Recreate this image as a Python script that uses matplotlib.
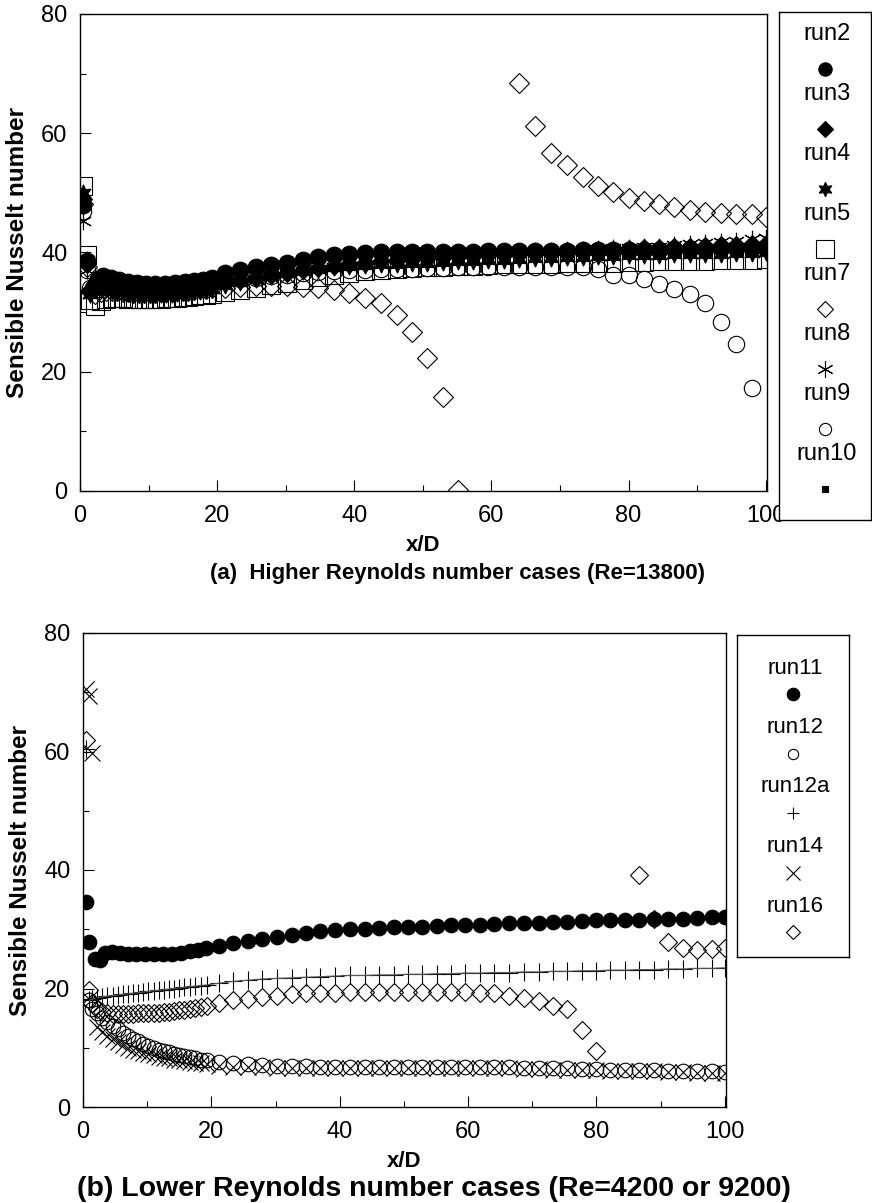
import numpy as np
import matplotlib
matplotlib.use("Agg")
import matplotlib.pyplot as plt
from matplotlib.ticker import MultipleLocator

plt.rcParams['font.family'] = ['Liberation Sans', 'DejaVu Sans']

nan = np.nan

# measuring stations (x/D): coarse set used by run2 / run11, fine set by the rest
x_coarse = [0.5, 1.0, 1.9, 2.6, 3.4, 4.5, 5.7, 7.0, 8.3, 9.6, 11.0, 12.4, 13.9, 15.3, 16.6, 17.9, 19.2,
            21.2, 23.4, 25.7, 27.9, 30.2, 32.5, 34.7, 37.0, 39.3, 41.6, 43.9, 46.2, 48.4, 50.6, 52.9,
            55.1, 57.3, 59.5, 61.8, 64.1, 66.4, 68.7, 71.0, 73.3, 75.5, 77.7, 80.0, 82.2, 84.5, 86.7,
            89.0, 91.2, 93.5, 95.7, 98.0, 100.1]
x_fine = [0.5, 1.0, 1.4, 2.2, 3.0, 3.8, 4.6, 5.4, 6.2, 7.0, 7.8, 8.6, 9.4, 10.2, 11.0, 11.8, 12.6,
          13.4, 14.2, 15.0, 15.8, 16.6, 17.5, 18.4, 19.3,
          21.2, 23.4, 25.7, 27.9, 30.2, 32.5, 34.7, 37.0, 39.3, 41.6, 43.9, 46.2, 48.4, 50.6, 52.9,
          55.1, 57.3, 59.5, 61.8, 64.1, 66.4, 68.7, 71.0, 73.3, 75.5, 77.7, 80.0, 82.2, 84.5, 86.7,
          89.0, 91.2, 93.5, 95.7, 98.0, 100.1]

# (a) Re = 13800
run2 = [48.0, 38.5, 34.0, 35.5, 36.0, 35.8, 35.4, 35.1, 34.9, 34.8, 34.8, 34.8, 34.9, 35.0, 35.2, 35.4, 35.7,
        36.6, 37.1, 37.5, 37.9, 38.3, 38.8, 39.2, 39.5, 39.7, 39.9, 40.0, 40.0, 40.0, 40.0, 40.1, 40.1,
        40.1, 40.2, 40.2, 40.2, 40.3, 40.3, 40.3, 40.4, 40.4, 40.4, 40.5, 40.5, 40.5, 40.6, 40.6, 40.6,
        40.7, 40.7, 40.8, 40.8]
run3 = [49.0, 38.0, 33.5, 34.5, 34.8, 34.6, 34.4, 34.2, 34.0, 33.9, 33.8, 33.7, 33.7, 33.7, 33.7, 33.8,
        33.8, 33.9, 34.0, 34.1, 34.2, 34.3, 34.4, 34.5, 34.7,
        35.0, 35.4, 35.8, 36.2, 36.6, 37.0, 37.4, 37.7, 38.0, 38.3, 38.5, 38.7, 38.9, 39.1, 39.3, 39.4,
        39.6, 39.7, 39.8, 39.9, 40.0, 40.1, 40.2, 40.3, 40.4, 40.5, 40.6, 40.7, 40.8, 40.9, 41.0, 41.1,
        41.2, 41.3, 41.4, 41.5]
run4 = [50.0, 38.8, 33.0, 33.8, 34.0, 33.8, 33.6, 33.4, 33.3, 33.2, 33.1, 33.0, 33.0, 33.0, 33.0, 33.0,
        33.1, 33.1, 33.2, 33.3, 33.4, 33.5, 33.6, 33.7, 33.9,
        34.5, 35.0, 35.5, 36.0, 36.5, 36.9, 37.2, 37.5, 37.7, 37.9, 38.0, 38.1, 38.2, 38.3, 38.4, 38.5,
        38.6, 38.7, 38.8, 38.9, 39.0, 39.1, 39.2, 39.3, 39.4, 39.4, 39.5, 39.6, 39.6, 39.7, 39.7, 39.8,
        39.8, 39.9, 39.9, 40.0]
run5 = [51.2, 39.5, 32.0, 31.0, 31.8, 32.2, 32.3, 32.3, 32.3, 32.2, 32.2, 32.2, 32.2, 32.2, 32.2, 32.2,
        32.3, 32.3, 32.4, 32.5, 32.6, 32.7, 32.8, 32.9, 33.1,
        33.3, 33.7, 34.1, 34.5, 34.9, 35.4, 35.9, 36.3, 36.6, 36.9, 37.1, 37.3, 37.4, 37.5, 37.6, 37.7,
        37.8, 37.9, 38.0, 38.0, 38.1, 38.1, 38.2, 38.2, 38.3, 38.3, 38.4, 38.4, 38.5, 38.5, 38.6, 38.6,
        38.7, 38.7, 38.8, 38.9]
run7 = [48.2, 37.5, 33.5, 33.0, 33.4, 33.6, 33.6, 33.5, 33.4, 33.3, 33.2, 33.2, 33.2, 33.2, 33.2, 33.3,
        33.3, 33.4, 33.5, 33.5, 33.6, 33.7, 33.8, 33.9, 34.0,
        34.1, 34.2, 34.3, 34.4, 34.4, 34.2, 34.0, 33.7, 33.2, 32.4, 31.5, 29.5, 26.7, 22.3, 15.7, 0.2,
        nan, nan, nan, 68.4, 61.2, 56.7, 54.6, 52.7, 51.2, 50.2, 49.1, 48.7, 48.2, 47.6, 47.1, 46.8,
        46.6, 46.4, 46.4, 46.0]
run8 = [45.3, 37.0, 33.0, 34.0, 34.6, 34.5, 34.3, 34.1, 34.0, 33.9, 33.8, 33.8, 33.8, 33.8, 33.9, 33.9,
        34.0, 34.1, 34.2, 34.3, 34.5, 34.6, 34.8, 35.0, 35.2,
        35.4, 35.8, 36.2, 36.6, 37.0, 37.4, 37.8, 38.1, 38.4, 38.7, 38.9, 39.1, 39.3, 39.5, 39.6, 39.7,
        39.8, 39.9, 40.0, 40.1, 40.2, 40.3, 40.4, 40.5, 40.6, 40.7, 40.8, 40.9, 41.0, 41.2, 41.4, 41.6,
        41.8, 42.0, 42.2, 42.4]
run9 = [47.0, 37.0, 34.0, 34.5, 34.7, 34.5, 34.3, 34.1, 34.0, 33.9, 33.9, 33.9, 33.9, 33.9, 34.0, 34.0,
        34.1, 34.2, 34.3, 34.4, 34.5, 34.6, 34.7, 34.8, 35.0,
        35.2, 35.5, 35.8, 36.1, 36.3, 36.5, 36.7, 36.9, 37.0, 37.1, 37.2, 37.3, 37.3, 37.4, 37.4, 37.5,
        37.5, 37.5, 37.6, 37.6, 37.6, 37.6, 37.6, 37.5, 37.2, 36.2, 36.2, 35.5, 34.8, 33.9, 33.0, 31.5,
        28.4, 24.7, 17.3, nan]
run10 = [49.5, 38.0, 33.5, 34.0, 34.2, 34.0, 33.8, 33.6, 33.5, 33.4, 33.4, 33.4, 33.4, 33.4, 33.5, 33.5,
         33.6, 33.7, 33.8, 33.9, 34.0, 34.1, 34.2, 34.4, 34.6,
         34.9, 35.3, 35.7, 36.1, 36.5, 36.9, 37.2, 37.5, 37.8, 38.0, 38.2, 38.4, 38.5, 38.6, 38.7, 38.8,
         38.9, 39.0, 39.1, 39.2, 39.3, 39.4, 39.5, 39.5, 39.6, 39.7, 39.8, 39.9, 39.9, 40.0, 40.1, 40.2,
         40.2, 40.3, 40.4, 40.5]

# (b) Re = 4200 or 9200
run11 = [34.6, 27.9, 25.0, 24.8, 26.0, 26.2, 26.0, 25.9, 25.8, 25.8, 25.8, 25.9, 25.9, 26.0, 26.3, 26.5, 26.8,
         27.2, 27.6, 28.0, 28.3, 28.7, 29.1, 29.4, 29.7, 29.8, 30.0, 30.1, 30.2, 30.3, 30.3, 30.4, 30.6,
         30.7, 30.7, 30.8, 30.9, 31.0, 31.0, 31.1, 31.2, 31.3, 31.4, 31.5, 31.5, 31.6, 31.6, 31.8, 31.8,
         31.8, 31.9, 32.0, 32.1]
run12 = [nan, 18.0, 16.5, 15.8, 15.0, 14.3, 13.7, 13.1, 12.5, 12.0, 11.5, 11.1, 10.7, 10.3, 10.0, 9.7,
         9.4, 9.2, 9.0, 8.8, 8.6, 8.4, 8.2, 8.0, 7.9,
         7.6, 7.4, 7.2, 7.1, 7.0, 6.9, 6.9, 6.8, 6.8, 6.8, 6.8, 6.8, 6.8, 6.8, 6.8, 6.8, 6.8, 6.8, 6.7,
         6.7, 6.7, 6.6, 6.6, 6.5, 6.5, 6.4, 6.4, 6.3, 6.3, 6.2, 6.2, 6.1, 6.1, 6.0, 6.0, 5.9]
run12a = [60.4, 18.0, 18.2, 18.4, 18.6, 18.7, 18.8, 18.9, 19.0, 19.1, 19.2, 19.3, 19.4, 19.5, 19.6, 19.7,
          19.8, 19.9, 20.0, 20.1, 20.2, 20.3, 20.4, 20.5, 20.6,
          20.9, 21.2, 21.4, 21.6, 21.7, 21.8, 21.9, 22.0, 22.1, 22.2, 22.2, 22.3, 22.3, 22.4, 22.4, 22.5,
          22.5, 22.6, 22.6, 22.7, 22.7, 22.8, 22.8, 22.9, 22.9, 23.0, 23.0, 23.1, 23.1, 23.2, 23.2, 23.3,
          23.3, 23.4, 23.4, 23.5]
run14 = [70.6, 69.3, 59.8, 13.5, 12.7, 12.0, 11.4, 10.9, 10.4, 10.0, 9.7, 9.4, 9.1, 8.9, 8.7, 8.5,
         8.3, 8.2, 8.0, 7.9, 7.8, 7.6, 7.5, 7.4, 7.3,
         6.9, 6.8, 6.7, 6.7, 6.6, 6.6, 6.6, 6.6, 6.6, 6.6, 6.6, 6.6, 6.6, 6.6, 6.6, 6.6, 6.6, 6.6, 6.5,
         6.5, 6.5, 6.4, 6.4, 6.3, 6.3, 6.2, 6.2, 6.1, 6.1, 6.0, 6.0, 5.9, 5.9, 5.8, 5.8, 5.7]
run16 = [62.0, 19.8, 17.5, 16.5, 16.0, 15.8, 15.7, 15.7, 15.7, 15.7, 15.7, 15.8, 15.8, 15.8, 15.9, 15.9,
         16.0, 16.1, 16.2, 16.3, 16.4, 16.5, 16.7, 16.9, 17.1,
         17.6, 18.0, 18.3, 18.6, 18.8, 19.0, 19.2, 19.3, 19.3, 19.4, 19.4, 19.4, 19.4, 19.4, 19.4, 19.4,
         19.4, 19.4, 19.3, 19.2, 18.7, 18.4, 17.9, 17.0, 16.6, 13.0, 9.5, nan, nan, 39.1, 31.8, 27.9,
         26.9, 26.5, 26.6, 26.8]

top_names = ['run2', 'run3', 'run4', 'run5', 'run7', 'run8', 'run9', 'run10']
bottom_names = ['run11', 'run12', 'run12a', 'run14', 'run16']

top_series = {'run2': (x_coarse, run2), 'run3': (x_fine, run3), 'run4': (x_fine, run4),
              'run5': (x_fine, run5), 'run7': (x_fine, run7), 'run8': (x_fine, run8),
              'run9': (x_fine, run9), 'run10': (x_fine, run10)}
bottom_series = {'run11': (x_coarse, run11), 'run12': (x_fine, run12), 'run12a': (x_fine, run12a),
                 'run14': (x_fine, run14), 'run16': (x_fine, run16)}

# marker shapes, (plot size, key size)
top_style = {
    'run2': (dict(marker='o', mfc='k'), 12.0, 9.6),
    'run3': (dict(marker='D', mfc='k'), 9.6, 7.8),
    'run4': (dict(marker=(6, 1, 0), mfc='k'), 12.5, 10.5),
    'run5': (dict(marker='s', mfc='none'), 12.3, 13.5),
    'run7': (dict(marker='D', mfc='none'), 10.6, 7.8),
    'run8': (dict(marker=(6, 2, 0)), 12.5, 11.5),
    'run9': (dict(marker='o', mfc='none'), 11.8, 8.8),
    'run10': (dict(marker='s', mfc='k'), 4.5, 3.8),
}
top_order = ['run5', 'run9', 'run7', 'run2', 'run4', 'run3', 'run8', 'run10']

bottom_style = {
    'run11': (dict(marker='o', mfc='k'), 10.5, 9.0),
    'run12': (dict(marker='o', mfc='none'), 10.5, 7.4),
    'run12a': (dict(marker='+'), 13.5, 8.5),
    'run14': (dict(marker='x'), 11.5, 9.6),
    'run16': (dict(marker='D', mfc='none'), 9.6, 7.3),
}
bottom_order = ['run16', 'run12a', 'run12', 'run14', 'run11']

W, H = 872, 1203
fig = plt.figure(figsize=(W / 100, H / 100), dpi=100)


def px_rect(left, top, right, bottom):
    return [left / W, 1 - bottom / H, (right - left) / W, (bottom - top) / H]


def style_axes(ax, xmax):
    ax.set_xlim(0, xmax)
    ax.set_ylim(0, 80)
    ax.xaxis.set_major_locator(MultipleLocator(20))
    ax.xaxis.set_minor_locator(MultipleLocator(10))
    ax.yaxis.set_major_locator(MultipleLocator(20))
    ax.yaxis.set_minor_locator(MultipleLocator(10))
    ax.tick_params(which='both', direction='in', top=False, right=False, width=0.8, labelsize=17)
    ax.tick_params(which='major', length=8)
    ax.tick_params(which='minor', length=4.5)
    ax.tick_params(axis='x', pad=10)
    ax.tick_params(axis='y', pad=9)
    for sp in ax.spines.values():
        sp.set_linewidth(1.0)
    ax.set_xlabel('x/D', fontsize=16, fontweight='bold', labelpad=6)
    ax.set_ylabel('Sensible Nusselt number', fontsize=17.5, fontweight='bold', labelpad=9)


def draw_key(rect, names, styles, fontsize, first, step, gap):
    kax = fig.add_axes(rect)
    wpx = rect[2] * W
    hpx = rect[3] * H
    kax.set_xlim(0, wpx)
    kax.set_ylim(hpx, 0)
    kax.set_xticks([])
    kax.set_yticks([])
    for sp in kax.spines.values():
        sp.set_linewidth(1.0)
    for i, name in enumerate(names):
        spec, _, key_ms = styles[name]
        y = first + step * i
        kax.text(wpx / 2 + 2, y, name, ha='center', va='center', fontsize=fontsize)
        kax.plot(wpx / 2, y + gap, linestyle='none', color='k', mec='k', mew=0.8,
                 ms=key_ms, clip_on=False, **spec)


# (a) higher Reynolds number
ax1 = fig.add_axes(px_rect(80, 14, 767, 491))
for name in top_order:
    xs, ys = top_series[name]
    spec, ms, _ = top_style[name]
    ax1.plot(xs, ys, linestyle='none', color='k', mec='k', mew=0.8, ms=ms, **spec)
style_axes(ax1, 100.2)
fig.canvas.draw()
ax1.get_xticklabels()[-1].set_ha('right')
draw_key(px_rect(779, 12, 871, 520), top_names, top_style, 17, 22, 60, 35)
fig.text(0.525, 1 - 573 / H, '(a)  Higher Reynolds number cases (Re=13800)',
         ha='center', va='center', fontsize=16, fontweight='bold')

# (b) lower Reynolds number
ax2 = fig.add_axes(px_rect(83, 633, 726, 1107))
for name in bottom_order:
    xs, ys = bottom_series[name]
    spec, ms, _ = bottom_style[name]
    ax2.plot(xs, ys, linestyle='none', color='k', mec='k', mew=0.8, ms=ms, **spec)
    if name == 'run12a':
        ax2.plot(xs[1:], ys[1:], '-', color='0.35', lw=0.8)
style_axes(ax2, 100.2)
draw_key(px_rect(737, 635, 849, 957), bottom_names, bottom_style, 16, 33, 59.5, 26)
fig.text(0.498, 1 - 1189 / H, '(b) Lower Reynolds number cases (Re=4200 or 9200)',
         ha='center', va='center', fontsize=20.5, fontweight='bold')

fig.savefig('out.png', dpi=100)
